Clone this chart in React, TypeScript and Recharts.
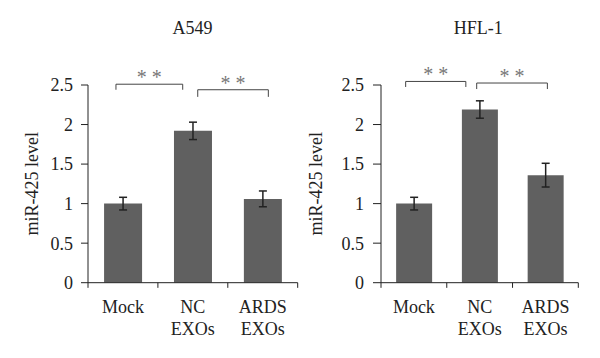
import { Bar, BarChart, ErrorBar, ReferenceLine, XAxis, YAxis, Label } from "recharts"

const FONT = "'Liberation Serif', 'Times New Roman', serif"
const INK = "#222222"

// categories (space = line break in the tick label)
const categories = ["Mock", "NC EXOs", "ARDS EXOs"]
// slot centres on the helper numeric axis (category i sits in [i, i+1])
const slotCenters = [0.5, 1.5, 2.5]
const yTicks = [0, 0.5, 1, 1.5, 2, 2.5]
const boundaryTicks = [0, 1, 2, 3]

// A549 panel
const a549Values = [1.0, 1.92, 1.06]
const a549Errors = [0.08, 0.11, 0.1]
const a549Brackets = [
  { from: 0.4, to: 1.355, y: 2.51, drop: 0.07, label: "* *" },
  { from: 1.57, to: 2.58, y: 2.44, drop: 0.09, label: "* *" },
]

// HFL-1 panel
const hfl1Values = [1.0, 2.19, 1.36]
const hfl1Errors = [0.08, 0.11, 0.15]
const hfl1Brackets = [
  { from: 0.375, to: 1.29, y: 2.545, drop: 0.07, label: "* *" },
  { from: 1.455, to: 2.53, y: 2.525, drop: 0.076, label: "* *" },
]

type Bracket = { from: number; to: number; y: number; drop: number; label: string }

function CategoryTick({ x, y, payload }: any) {
  const lines = String(payload.value).split(" ")
  return (
    <text x={x} y={y} textAnchor="middle" fontFamily={FONT} fontSize={18} fill={INK}>
      {lines.map((line, i) => (
        <tspan key={i} x={x} y={y + 30.6 + i * 21.7}>
          {line}
        </tspan>
      ))}
    </text>
  )
}

interface PanelProps {
  title: string
  titleX: number
  left: number
  values: number[]
  errors: number[]
  brackets: Bracket[]
  margin: { top: number; right: number; bottom: number; left: number }
  yWidth: number
  labelOffset: number
  tickSize: number
  tickMargin: number
}

function Panel(p: PanelProps) {
  const data = categories.map((name, i) => ({
    name,
    pos: slotCenters[i],
    value: p.values[i],
    err: p.errors[i],
  }))
  return (
    <div style={{ position: "absolute", left: p.left, top: 0, width: 300, height: 358 }}>
      <svg width={300} height={40} style={{ position: "absolute", left: 0, top: 0 }}>
        <text x={p.titleX} y={34} textAnchor="middle" fontFamily={FONT} fontSize={18} fill={INK}>
          {p.title}
        </text>
      </svg>
      <BarChart width={300} height={358} data={data} margin={p.margin} barCategoryGap="23%">
        <XAxis
          xAxisId="cat"
          dataKey="name"
          height={60}
          tickSize={0}
          tickMargin={0}
          tickLine={false}
          axisLine={{ stroke: INK }}
          tick={<CategoryTick />}
          interval={0}
        />
        <XAxis
          xAxisId="pos"
          dataKey="pos"
          type="number"
          scale="linear"
          domain={[0, 3]}
          allowDataOverflow
          hide
        />
        <YAxis
          domain={[0, 2.5]}
          ticks={yTicks}
          allowDataOverflow
          width={p.yWidth}
          tickSize={p.tickSize}
          tickMargin={p.tickMargin}
          axisLine={{ stroke: INK }}
          tickLine={{ stroke: INK }}
          tick={{ fontFamily: FONT, fontSize: 18, fill: INK }}
        >
          <Label
            value="miR-425 level"
            angle={-90}
            position="insideLeft"
            offset={p.labelOffset}
            style={{ textAnchor: "middle", fontFamily: FONT, fontSize: 18, fill: INK }}
          />
        </YAxis>
        <Bar xAxisId="cat" dataKey="value" fill="#606060" isAnimationActive={false}>
          <ErrorBar dataKey="err" width={4} stroke={INK} strokeWidth={1.5} isAnimationActive={false} />
        </Bar>
        {boundaryTicks.map((t) => (
          <ReferenceLine
            key={`bt${t}`}
            xAxisId="pos"
            ifOverflow="visible"
            segment={[
              { x: t, y: 0 },
              { x: t, y: -0.065 },
            ]}
            stroke={INK}
          />
        ))}
        {p.brackets.map((b, i) => [
          <ReferenceLine
            key={`h${i}`}
            xAxisId="pos"
            ifOverflow="visible"
            segment={[
              { x: b.from, y: b.y },
              { x: b.to, y: b.y },
            ]}
            stroke="#444"
            label={{ value: b.label, position: "top", offset: 0, fill: "#777", fontSize: 20, fontFamily: FONT }}
          />,
          <ReferenceLine
            key={`l${i}`}
            xAxisId="pos"
            ifOverflow="visible"
            segment={[
              { x: b.from, y: b.y },
              { x: b.from, y: b.y - b.drop },
            ]}
            stroke="#444"
          />,
          <ReferenceLine
            key={`r${i}`}
            xAxisId="pos"
            ifOverflow="visible"
            segment={[
              { x: b.to, y: b.y },
              { x: b.to, y: b.y - b.drop },
            ]}
            stroke="#444"
          />,
        ])}
      </BarChart>
    </div>
  )
}

export default function App() {
  return (
    <div style={{ position: "absolute", left: 0, top: 0, width: 600, height: 358, background: "#fff" }}>
      <Panel
        title="A549"
        titleX={192.5}
        left={0}
        values={a549Values}
        errors={a549Errors}
        brackets={a549Brackets}
        margin={{ top: 85, right: 2.3, bottom: 15.3, left: 22 }}
        yWidth={66}
        labelOffset={10}
        tickSize={7}
        tickMargin={8}
      />
      <Panel
        title="HFL-1"
        titleX={178.3}
        left={300}
        values={hfl1Values}
        errors={hfl1Errors}
        brackets={hfl1Brackets}
        margin={{ top: 85, right: 21.7, bottom: 15.3, left: 6 }}
        yWidth={75}
        labelOffset={10}
        tickSize={8}
        tickMargin={9}
      />
    </div>
  )
}
